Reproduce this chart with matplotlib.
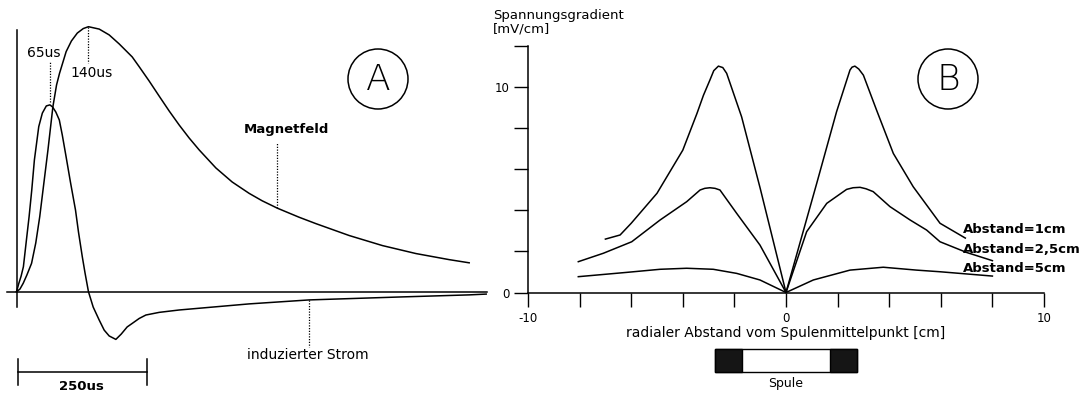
import matplotlib
matplotlib.use("Agg")
import matplotlib.pyplot as plt
from matplotlib.patches import Circle, Rectangle

# ---- Panel A: magnetic field pulse and induced current (time in microseconds) ----
field_t = [0, 6.7, 13.1, 20.2, 29.3, 37.5, 45.2, 52.8, 61.2, 70.8, 77.9, 83.7,
           96.6, 106.8, 118.3, 129.9, 140, 160.9, 180.3, 199.8, 225.1, 238.7,
           258.1, 277.6, 297.0, 316.5, 335.9, 355.4, 387.9, 419.6, 452.7,
           478.0, 507.7, 549.8, 582.3, 647.2, 712.0, 777.0, 841.8, 880.7]
field_v = [0.0, 0.010, 0.032, 0.063, 0.107, 0.184, 0.283, 0.403, 0.535, 0.698,
           0.780, 0.824, 0.906, 0.946, 0.976, 0.993, 1.0, 0.991, 0.969, 0.935,
           0.886, 0.849, 0.795, 0.738, 0.682, 0.629, 0.580, 0.535, 0.467,
           0.414, 0.371, 0.343, 0.315, 0.281, 0.257, 0.212, 0.174, 0.144,
           0.121, 0.109]

current_t = [0, 4.6, 9.0, 13.4, 19.3, 24.5, 29.7, 34.8, 43.3, 50.3, 58.0, 65,
             70.2, 76.5, 83.3, 89.1, 96.5, 104.9, 114.8, 120.6, 128.0, 133.3,
             140, 149.2, 160.9, 170.6, 180.3, 193.3, 203.7, 215.3, 225.6,
             238.7, 251.7, 277.6, 316.5, 452.7, 569.4, 744.5, 880.7, 913.8]
current_v = [0.0, 0.032, 0.059, 0.094, 0.195, 0.283, 0.384, 0.497, 0.623,
             0.674, 0.701, 0.705, 0.697, 0.678, 0.648, 0.591, 0.509, 0.414,
             0.308, 0.225, 0.132, 0.071, 0.0, -0.058, -0.107, -0.145, -0.167,
             -0.180, -0.160, -0.133, -0.119, -0.101, -0.088, -0.078, -0.069,
             -0.046, -0.031, -0.020, -0.012, -0.009]

current_peak_us = 65
field_peak_us = 140
scale_bar_us = 250

# ---- Panel B: voltage gradient vs. radial distance from coil centre ----
d1_x = [-7.0, -6.43, -6.0, -5.0, -4.0, -3.45, -3.2, -2.95, -2.8, -2.62, -2.45,
        -2.3, -1.72, -1.0, 0.0, 1.19, 1.96, 2.48, 2.56, 2.67, 2.82, 3.0, 3.51,
        4.16, 4.93, 5.97, 6.95]
d1_y = [2.60, 2.80, 3.37, 4.83, 6.93, 8.72, 9.60, 10.34, 10.80, 11.02, 10.95,
        10.67, 8.55, 5.07, 0.0, 5.31, 8.80, 10.83, 10.97, 11.02, 10.88, 10.58,
        8.88, 6.77, 5.15, 3.37, 2.65]

d25_x = [-8.05, -7.08, -5.98, -4.88, -3.85, -3.33, -3.15, -2.95, -2.75, -2.56,
         -1.91, -1.01, 0.0, 0.80, 1.58, 2.35, 2.6, 2.87, 3.1, 3.38, 4.03, 4.81,
         5.45, 5.97, 7.0, 8.0]
d25_y = [1.50, 1.91, 2.47, 3.53, 4.42, 4.99, 5.07, 5.10, 5.07, 4.99,
         3.85, 2.31, 0.0, 2.96, 4.34, 5.02, 5.10, 5.12, 5.05, 4.91, 4.18, 3.53,
         3.04, 2.47, 1.95, 1.55]

d5_x = [-8.05, -6.17, -4.88, -3.85, -2.82, -1.91, -1.01, 0.0, 1.06, 2.48,
        3.77, 5.06, 5.97, 8.0]
d5_y = [0.77, 0.98, 1.13, 1.18, 1.13, 0.93, 0.61, 0.0, 0.61, 1.09,
        1.23, 1.09, 1.01, 0.80]

series_labels = ["Abstand=1cm", "Abstand=2,5cm", "Abstand=5cm"]

coil_outer = 2.75     # cm, half width of coil
coil_winding = 1.05   # cm, width of winding block

x_ticklabels = {-10: "-10", 0: "0", 10: "10"}
y_ticklabels = {0: "0", 10: "10"}

# ---- figure setup ----
W, H = 1085, 394
fig = plt.figure(figsize=(W / 100, H / 100), dpi=100)
fig.patch.set_facecolor("white")


def box(x0, y_top, x1, y_bot):
    return [x0 / W, 1 - y_bot / H, (x1 - x0) / W, (y_bot - y_top) / H]


THIN = dict(family="DejaVu Sans", color="black")
BOLD = dict(family="DejaVu Sans", fontweight="bold", color="black")
LW = 1.1
ink = "black"
dotted = (0, (1, 1.2))

# overlay in pixel coordinates for free-standing labels and the circled letters
ov = fig.add_axes([0, 0, 1, 1], zorder=5)
ov.set_xlim(0, W)
ov.set_ylim(H, 0)
ov.axis("off")
ov.patch.set_alpha(0)

# ---------------- Panel A ----------------
px_per_us = 0.514
axA = fig.add_axes(box(16.5, 26.7, 486.5, 291.7))
axA.set_xlim(0, 470 / px_per_us)
axA.set_ylim(0, 1)
axA.axis("off")

axA.plot([0, 0], [0.988, -0.058], color=ink, lw=LW, clip_on=False)
axA.plot([-19, 470 / px_per_us], [0, 0], color=ink, lw=LW, clip_on=False)
axA.plot(field_t, field_v, color=ink, lw=LW, clip_on=False)
axA.plot(current_t, current_v, color=ink, lw=LW, clip_on=False)

# peak markers
axA.plot([current_peak_us, current_peak_us], [0.715, 0.87], color=ink,
         lw=0.9, ls=dotted, clip_on=False)
axA.plot([field_peak_us, field_peak_us], [1.0, 0.862], color=ink,
         lw=0.9, ls=dotted, clip_on=False)
# leader lines for curve names
axA.plot([507.7, 507.7], [0.315, 0.561], color=ink, lw=0.9, ls=dotted, clip_on=False)
axA.plot([569.4, 569.4], [-0.031, -0.209], color=ink, lw=0.9, ls=dotted, clip_on=False)

# time scale bar
bar_t0 = 3
axA.plot([bar_t0, bar_t0 + scale_bar_us], [-0.303, -0.303], color=ink, lw=LW,
         clip_on=False)
for tt in (bar_t0, bar_t0 + scale_bar_us):
    axA.plot([tt, tt], [-0.254, -0.352], color=ink, lw=LW, clip_on=False)

ov.text(44, 53, f"{current_peak_us}us", ha="center", va="center", fontsize=10, **THIN)
ov.text(92, 73, f"{field_peak_us}us", ha="center", va="center", fontsize=10, **THIN)
ov.text(286, 130, "Magnetfeld", ha="center", va="center", fontsize=9.5, **BOLD)
ov.text(308, 355, "induzierter Strom", ha="center", va="center", fontsize=10, **THIN)
ov.text(81, 387, f"{scale_bar_us}us", ha="center", va="center", fontsize=9.5, **BOLD)

ov.add_patch(Circle((378, 79), 30, fill=False, lw=1.1, ec=ink))
ov.text(378, 80, "A", ha="center", va="center", fontsize=26,
        family="DejaVu Sans", fontweight="ultralight")

# ---------------- Panel B ----------------
axB = fig.add_axes(box(528, 46, 1044, 292.5))
axB.set_xlim(-10, 10)
axB.set_ylim(0, 12)
axB.patch.set_alpha(0)
for s in ("top", "right"):
    axB.spines[s].set_visible(False)
for s in ("left", "bottom"):
    axB.spines[s].set_linewidth(LW)

axB.set_xticks(range(-10, 11, 2))
axB.set_xticklabels([x_ticklabels.get(v, "") for v in range(-10, 11, 2)])
axB.set_yticks(range(0, 13, 2))
axB.set_yticklabels([y_ticklabels.get(v, "") for v in range(0, 13, 2)])
axB.tick_params(direction="out", length=10, width=1.0, labelsize=8.5, pad=4)
axB.tick_params(axis="y", pad=3)
for lab in axB.get_xticklabels() + axB.get_yticklabels():
    lab.set_family("DejaVu Sans")

for xs, ys in ((d1_x, d1_y), (d25_x, d25_y), (d5_x, d5_y)):
    axB.plot(xs, ys, color=ink, lw=LW, clip_on=False)

axB.set_xlabel("radialer Abstand vom Spulenmittelpunkt [cm]", fontsize=10,
               labelpad=1, **THIN)

ov.text(493, 15, "Spannungsgradient", ha="left", va="center", fontsize=9.5, **THIN)
ov.text(493, 29, "[mV/cm]", ha="left", va="center", fontsize=9.5, **THIN)

for lab, yy in zip(series_labels, (229, 249, 268)):
    ov.text(963, yy, lab, ha="left", va="center", fontsize=9.5, **BOLD)

ov.add_patch(Circle((948, 79), 30, fill=False, lw=1.1, ec=ink))
ov.text(948, 80, "B", ha="center", va="center", fontsize=26,
        family="DejaVu Sans", fontweight="ultralight")

# coil sketch below the distance axis, in data units of the x axis
coil_top, coil_h = -2.75, -1.12
axB.add_patch(Rectangle((-coil_outer, coil_top), 2 * coil_outer, coil_h,
                        fc="white", ec=ink, lw=1.0, clip_on=False))
axB.add_patch(Rectangle((-coil_outer, coil_top), coil_winding, coil_h,
                        fc="#151515", ec=ink, lw=1.0, clip_on=False))
axB.add_patch(Rectangle((coil_outer - coil_winding, coil_top), coil_winding, coil_h,
                        fc="#151515", ec=ink, lw=1.0, clip_on=False))
ov.text(786, 384, "Spule", ha="center", va="center", fontsize=9, **THIN)

fig.savefig("out.png", dpi=100, facecolor="white")
